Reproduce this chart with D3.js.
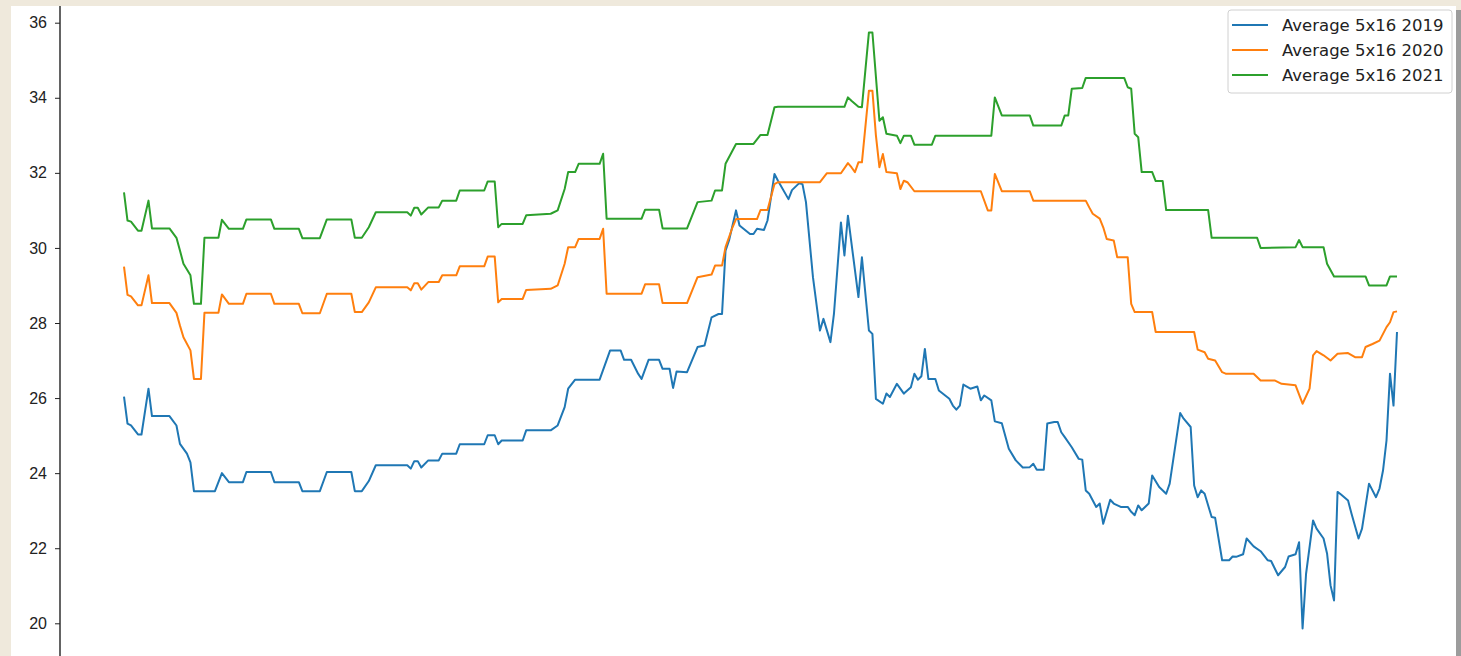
<!DOCTYPE html>
<html>
<head>
<meta charset="utf-8">
<script src="https://cdn.jsdelivr.net/npm/d3@7"></script>
<style>
    body { margin: 0; background: #efe9dc; overflow: hidden; }
    #chart-area { width: 1461px; height: 656px; }
</style>
</head>
<body>
<div id="chart-area"></div>
<script>
// daily 5x16 averages (day index 0..364, only the corner points)
const days2019 = [0,1,2,4,5,7,8,13,15,16,18,19,20,26,28,30,34,35,42,43,50,51,56,58,65,66,68,70,72,81,
    82,83,84,85,87,90,91,95,96,103,104,106,107,108,114,115,122,124,126,127,129,136,139,142,143,145,147,148,150,153,
    154,156,157,158,161,164,166,168,170,171,172,173,175,176,179,180,181,183,184,186,187,190,191,193,194,195,197,199,200,202,
    203,205,206,207,210,211,213,214,215,217,218,219,221,223,225,226,227,228,229,230,232,233,236,237,238,239,240,242,244,245,
    246,248,249,251,253,255,257,259,260,261,263,264,266,267,268,269,271,273,274,275,276,278,279,280,282,283,285,287,288,289,
    290,291,293,294,296,298,299,302,303,305,306,307,308,309,311,312,314,316,317,318,320,321,323,325,327,328,330,332,333,335,
    336,337,338,340,341,343,344,345,346,347,348,350,351,353,354,356,358,359,360,361,362,363,364];
const avg2019 = [26.04,25.32,25.27,25.03,25.03,26.25,25.52,25.52,25.27,24.78,24.52,24.29,23.52,23.52,24.0,23.76,23.76,24.03,24.03,23.76,
    23.76,23.52,23.52,24.03,24.03,23.52,23.52,23.79,24.21,24.21,24.12,24.32,24.32,24.15,24.34,24.34,24.52,24.52,24.77,24.77,
    25.01,25.01,24.77,24.87,24.87,25.14,25.14,25.27,25.76,26.25,26.49,26.49,27.27,27.27,27.02,27.02,26.65,26.51,27.02,27.02,
    26.78,26.78,26.27,26.71,26.69,27.36,27.40,28.15,28.24,28.24,29.93,30.20,31.0,30.60,30.37,30.37,30.51,30.48,30.73,31.97,
    31.79,31.30,31.54,31.72,31.70,31.22,29.22,27.80,28.11,27.49,28.24,30.68,29.80,30.86,28.69,29.75,27.80,27.71,25.98,25.85,
    26.12,26.03,26.38,26.12,26.29,26.65,26.49,26.58,27.31,26.51,26.51,26.20,25.98,25.80,25.69,25.80,26.36,26.25,26.31,25.94,
    26.07,25.94,25.38,25.33,24.65,24.34,24.15,24.16,24.25,24.09,24.09,25.32,25.36,25.36,25.09,24.96,24.69,24.38,24.36,23.54,
    23.45,23.10,23.19,22.65,23.29,23.19,23.10,23.10,22.97,22.88,23.14,23.01,23.19,23.94,23.63,23.45,23.72,25.60,25.45,25.23,
    23.67,23.36,23.54,23.45,22.83,22.81,21.68,21.68,21.78,21.77,21.84,22.26,22.05,21.92,21.68,21.66,21.28,21.50,21.78,21.84,
    22.16,19.86,21.32,22.74,22.52,22.26,21.86,21.01,20.61,23.50,23.43,23.27,22.92,22.26,22.52,23.72,23.36,23.59,24.07,24.87,
    26.65,25.80,27.76];

const days2020 = [0,1,2,4,5,7,8,13,15,16,17,19,20,22,23,27,28,30,34,35,42,43,50,51,56,58,65,66,68,70,
    72,81,82,83,84,85,87,90,91,95,96,103,104,106,107,108,114,115,122,124,126,127,129,130,136,137,138,148,149,153,
    154,161,164,168,169,171,172,174,175,181,182,184,186,187,199,201,205,207,208,209,210,211,213,214,215,216,217,218,221,222,
    223,224,226,245,247,248,249,251,259,260,275,276,277,279,280,281,283,284,287,288,289,294,295,306,307,309,310,312,314,315,
    323,325,329,331,335,337,339,340,341,343,345,347,350,352,354,355,357,359,361,362,363,364];
const avg2020 = [29.50,28.75,28.71,28.47,28.47,29.27,28.53,28.53,28.27,27.93,27.62,27.27,26.51,26.51,28.27,28.27,28.76,28.51,28.51,28.78,
    28.78,28.51,28.51,28.26,28.26,28.78,28.78,28.29,28.29,28.55,28.95,28.95,28.87,29.06,29.06,28.89,29.09,29.09,29.27,29.27,
    29.51,29.51,29.77,29.77,28.55,28.64,28.64,28.88,28.91,29.0,29.58,30.02,30.02,30.24,30.24,30.51,28.78,28.78,29.03,29.03,
    28.53,28.53,29.22,29.29,29.53,29.53,30.02,30.55,30.77,30.77,31.01,31.01,31.70,31.75,31.75,31.99,31.99,32.26,32.15,32.02,
    32.28,32.28,34.19,34.19,33.0,32.15,32.50,32.02,31.99,31.57,31.79,31.75,31.51,31.51,31.0,31.0,31.97,31.51,31.51,31.26,
    31.26,31.08,30.91,30.78,30.55,30.24,30.20,29.75,29.75,28.51,28.29,28.29,27.76,27.76,27.29,27.22,27.05,27.0,26.69,26.65,
    26.65,26.47,26.47,26.38,26.34,25.85,26.25,27.14,27.25,27.14,27.0,27.18,27.20,27.09,27.09,27.36,27.44,27.53,27.89,28.02,
    28.29,28.31];

const days2021 = [0,1,2,4,5,7,8,13,15,16,17,19,20,22,23,27,28,30,34,35,42,43,50,51,56,58,65,66,68,70,
    72,81,82,83,84,85,87,90,91,95,96,103,104,106,107,108,114,115,122,124,126,127,129,130,136,137,138,148,149,153,
    154,161,164,168,169,171,172,175,180,182,184,186,187,206,207,208,210,211,213,214,216,217,218,221,222,223,225,226,231,232,
    248,249,251,259,260,268,269,270,271,274,275,286,287,288,289,290,291,294,295,297,298,310,311,324,325,335,336,337,343,344,
    346,355,356,361,362,364];
const avg2021 = [31.48,30.73,30.70,30.46,30.46,31.26,30.52,30.52,30.27,29.93,29.58,29.27,28.51,28.51,30.27,30.27,30.75,30.51,30.51,30.76,
    30.76,30.51,30.51,30.26,30.26,30.76,30.76,30.27,30.27,30.55,30.95,30.95,30.86,31.07,31.07,30.89,31.08,31.08,31.26,31.26,
    31.53,31.53,31.77,31.77,30.55,30.64,30.64,30.87,30.91,31.0,31.57,32.02,32.02,32.24,32.24,32.51,30.78,30.78,31.02,31.02,
    30.52,30.52,31.22,31.26,31.53,31.53,32.24,32.77,32.77,33.01,33.01,33.75,33.76,33.76,34.01,33.92,33.76,33.75,35.74,35.74,
    33.39,33.48,33.04,32.99,32.79,32.99,32.99,32.75,32.75,32.99,32.99,34.01,33.53,33.53,33.26,33.26,33.53,33.53,34.24,34.26,
    34.53,34.53,34.28,34.24,33.04,32.95,32.02,32.02,31.78,31.78,31.01,31.01,30.27,30.27,30.0,30.02,30.21,30.02,30.02,29.58,
    29.24,29.24,29.0,29.0,29.24,29.24];

const seriesNames = ["Average 5x16 2019", "Average 5x16 2020", "Average 5x16 2021"];
const seriesColors = ["#1f77b4", "#ff7f0e", "#2ca02c"];
const yTicks = [20, 22, 24, 26, 28, 30, 32, 34, 36];

class LineChart {
    constructor(parentElement) {
        this.parentElement = parentElement;
        this.initVis();
        this.updateVis();
    }

    initVis() {
        let vis = this;

        vis.width = 1461;
        vis.height = 656;

        vis.svg = d3.select("#" + vis.parentElement)
            .append("svg")
            .attr("width", vis.width)
            .attr("height", vis.height)
            .style("font-family", "'DejaVu Sans', sans-serif");

        // white figure area inside the beige page, grey edge on the right
        vis.svg.append("rect")
            .attr("x", 11).attr("y", 6)
            .attr("width", 1445).attr("height", 660)
            .attr("fill", "#ffffff");
        vis.svg.append("rect")
            .attr("x", 1456).attr("y", 10)
            .attr("width", 5).attr("height", 656)
            .attr("fill", "#9c9c9c");

        // matplotlib style 5% margins round the data
        vis.x = d3.scaleLinear().domain([0, 364]).range([124, 1397]);
        vis.y = d3.scaleLinear().domain([20, 36]).range([623.3, 22.7]);

        vis.svg.append("clipPath").attr("id", "plot-clip")
            .append("rect")
            .attr("x", 60).attr("y", 6)
            .attr("width", 1396).attr("height", 650);

        vis.plot = vis.svg.append("g").attr("clip-path", "url(#plot-clip)");

        vis.yAxis = d3.axisLeft(vis.y)
            .tickValues(yTicks)
            .tickSize(5)
            .tickPadding(8)
            .tickFormat(d3.format("d"));
    }

    updateVis() {
        let vis = this;

        let series = [
            { name: seriesNames[0], color: seriesColors[0], values: days2019.map((d, i) => ({ day: d, val: avg2019[i] })) },
            { name: seriesNames[1], color: seriesColors[1], values: days2020.map((d, i) => ({ day: d, val: avg2020[i] })) },
            { name: seriesNames[2], color: seriesColors[2], values: days2021.map((d, i) => ({ day: d, val: avg2021[i] })) }
        ];

        let line = d3.line()
            .x(d => vis.x(d.day))
            .y(d => vis.y(d.val));

        vis.plot.selectAll(".series")
            .data(series)
            .enter().append("path")
            .attr("class", "series")
            .attr("d", d => line(d.values))
            .attr("fill", "none")
            .attr("stroke", d => d.color)
            .attr("stroke-width", 2)
            .attr("stroke-linejoin", "round");

        //y axis, only the left spine shows in the crop
        let ax = vis.svg.append("g")
            .attr("class", "y-axis")
            .attr("transform", "translate(60,0)")
            .call(vis.yAxis);
        ax.select(".domain").remove();
        ax.selectAll(".tick line").attr("stroke", "#222");
        ax.selectAll(".tick text")
            .attr("fill", "#222")
            .style("font-size", "16px");

        vis.svg.append("line")
            .attr("x1", 60).attr("x2", 60)
            .attr("y1", 6).attr("y2", vis.height)
            .attr("stroke", "#222")
            .attr("stroke-width", 1.4);

        // legend top right
        let legend = vis.svg.append("g").attr("class", "legend");
        legend.append("rect")
            .attr("x", 1228).attr("y", 10)
            .attr("width", 224).attr("height", 83)
            .attr("rx", 3)
            .attr("fill", "#ffffff")
            .attr("fill-opacity", 0.8)
            .attr("stroke", "#d0d0d0");

        let rows = legend.selectAll(".legend-row")
            .data(series)
            .enter().append("g")
            .attr("class", "legend-row")
            .attr("transform", (d, i) => "translate(0," + (25 + i * 25) + ")");
        rows.append("line")
            .attr("x1", 1232).attr("x2", 1268)
            .attr("stroke", d => d.color)
            .attr("stroke-width", 2);
        rows.append("text")
            .attr("x", 1282)
            .attr("dy", "0.35em")
            .attr("fill", "#222")
            .style("font-size", "16.5px")
            .text(d => d.name);
    }
}

let chart = new LineChart("chart-area");
</script>
</body>
</html>
